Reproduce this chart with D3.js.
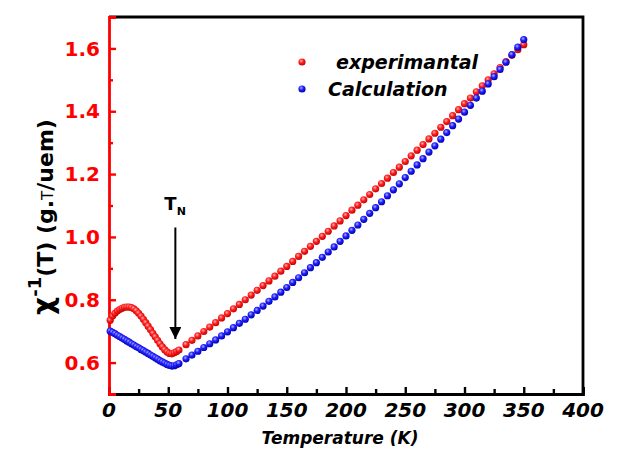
<!DOCTYPE html>
<meta charset="utf-8">
<script src="https://d3js.org/d3.v7.min.js"></script>
<style>
  body { margin: 0; background: #fff; }
  text { font-family: "DejaVu Sans", sans-serif; font-weight: bold; }
</style>
<div id="my_dataviz"></div>
<script>

// temperatures (K) shared by both series
var temps = [1,3,5,7,9,11,13,15,17,19,21,23,25,27,29,31,33,35,37,39,41,43,45,47,49,51,53,55,57,59,
  65,70,75,80,85,90,95,100,105,110,115,120,125,130,135,140,145,150,155,160,165,170,175,180,185,190,195,200,
  205,210,215,220,225,230,235,240,245,250,255,260,265,270,275,280,285,290,295,300,305,310,315,320,325,330,335,340,345,350];

// experimental inverse susceptibility
var experimental = [0.735,0.748,0.757,0.764,0.769,0.773,0.776,0.777,0.777,0.775,0.771,0.765,0.757,0.748,0.738,0.727,0.716,0.705,0.693,0.682,
  0.671,0.660,0.650,0.641,0.634,0.629,0.628,0.631,0.635,0.640,
  0.657,0.671,0.685,0.699,0.713,0.727,0.742,0.756,0.771,0.785,0.800,0.815,0.830,0.845,0.860,0.875,0.891,0.906,0.922,0.938,0.954,0.970,0.986,1.002,1.018,1.035,1.051,1.068,
  1.085,1.101,1.118,1.135,1.153,1.170,1.187,1.205,1.222,1.240,1.258,1.276,1.294,1.312,1.330,1.349,1.367,1.386,1.405,1.424,1.442,1.462,1.481,1.500,1.519,1.539,1.558,1.578,1.596,1.612];

// calculated inverse susceptibility
var calculation = [0.700,0.696,0.692,0.687,0.683,0.678,0.674,0.669,0.665,0.660,0.656,0.651,0.647,0.642,0.638,0.633,0.629,0.624,0.620,0.615,
  0.611,0.606,0.602,0.598,0.594,0.591,0.589,0.590,0.593,0.597,
  0.612,0.624,0.636,0.648,0.660,0.672,0.685,0.698,0.711,0.725,0.738,0.752,0.766,0.780,0.795,0.809,0.824,0.839,0.855,0.870,0.886,0.902,0.918,0.935,0.952,0.968,0.986,1.003,
  1.021,1.038,1.056,1.075,1.093,1.112,1.131,1.150,1.169,1.189,1.209,1.229,1.249,1.270,1.290,1.311,1.332,1.354,1.375,1.397,1.419,1.442,1.464,1.487,1.510,1.533,1.556,1.580,1.604,1.628];

var xTicks = [0,50,100,150,200,250,300,350,400];
var yTicks = [0.6,0.8,1.0,1.2,1.4,1.6];
var seriesNames = ["experimantal", "Calculation"];
var tN = 56;

var W = 644, H = 452;
var margin = {top: 17, right: 61, bottom: 58, left: 109},
    width = W - margin.left - margin.right,
    height = H - margin.top - margin.bottom;

var svg = d3.select("#my_dataviz").append("svg")
    .attr("width", W).attr("height", H);

// sphere-like marker gradients
var defs = svg.append("defs");
function sphere(id, light, mid, dark) {
  var gr = defs.append("radialGradient").attr("id", id)
    .attr("cx", "40%").attr("cy", "35%").attr("r", "65%");
  gr.append("stop").attr("offset", "0%").attr("stop-color", light);
  gr.append("stop").attr("offset", "45%").attr("stop-color", mid);
  gr.append("stop").attr("offset", "100%").attr("stop-color", dark);
}
sphere("gRed", "#ffb0b0", "#ff2020", "#c80000");
sphere("gBlue", "#b0b0ff", "#2020ff", "#0000b0");

var g = svg.append("g").attr("transform", "translate(" + margin.left + "," + margin.top + ")");

var x = d3.scaleLinear().domain([0, 400]).range([0, width]);
var y = d3.scaleLinear().domain([0.5, 1.7]).range([height, 0]);

// frame top + right
g.append("path")
  .attr("d", "M0,0H" + width + "V" + height)
  .attr("fill", "none").attr("stroke", "#000").attr("stroke-width", 2.8);

// x axis
var xAxis = g.append("g").attr("transform", "translate(0," + height + ")")
  .call(d3.axisBottom(x).tickValues(d3.range(0, 401, 25)).tickSize(-7).tickFormat(""));
xAxis.selectAll(".tick line").attr("stroke", "#000").attr("stroke-width", 2.4)
  .attr("y2", function(d) { return d % 50 === 0 ? -7 : -5; });
xAxis.select(".domain").attr("stroke", "#000").attr("stroke-width", 2.8);

g.append("g").selectAll("text").data(xTicks).enter().append("text")
  .attr("x", function(d) { return x(d); })
  .attr("y", height + 23)
  .attr("text-anchor", "middle")
  .style("font-style", "italic").style("font-size", "20px")
  .text(function(d) { return d; });

// y axis (red)
var yAxis = g.append("g")
  .call(d3.axisLeft(y).tickValues(d3.range(0.6, 1.65, 0.1)).tickSize(-7).tickFormat(""));
yAxis.selectAll(".tick line").attr("stroke", "#ff0000").attr("stroke-width", 2.4)
  .attr("x2", function(d, i) { return i % 2 === 0 ? 7 : 4; });
yAxis.select(".domain").attr("stroke", "#ff0000").attr("stroke-width", 2.8);

g.append("g").selectAll("text").data(yTicks).enter().append("text")
  .attr("x", -9)
  .attr("y", function(d) { return y(d); })
  .attr("dy", "0.36em")
  .attr("text-anchor", "end")
  .attr("fill", "#ff0000")
  .style("font-size", "20px")
  .text(function(d) { return d.toFixed(1); });

// axis titles
svg.append("text")
  .attr("x", 340)
  .attr("y", 444)
  .attr("text-anchor", "middle")
  .style("font-style", "italic").style("font-size", "17px")
  .text("Temperature (K)");

var yt = svg.append("text")
  .attr("transform", "translate(53,217) rotate(-90)")
  .attr("text-anchor", "middle")
  .style("font-size", "22px");
yt.append("tspan").style("font-size", "28px").text("\u03C7");
yt.append("tspan").attr("dy", "-12").style("font-size", "18px").text("-1");
yt.append("tspan").attr("dy", "12").text("(T) (g.");
yt.append("tspan").style("font-size", "15px").style("font-weight", "normal").text("T");
yt.append("tspan").text("/uem)");

// series
var series = [
  {name: seriesNames[0], values: experimental, fill: "url(#gRed)"},
  {name: seriesNames[1], values: calculation, fill: "url(#gBlue)"}
];
series.forEach(function(s) {
  g.append("g").selectAll("circle").data(temps).enter().append("circle")
    .attr("cx", function(d) { return x(d); })
    .attr("cy", function(d, i) { return y(s.values[i]); })
    .attr("r", 3.6)
    .attr("fill", s.fill);
});

// legend
series.forEach(function(s, i) {
  var ly = 62 + i * 27;
  svg.append("circle").attr("cx", 302).attr("cy", ly).attr("r", 3.6).attr("fill", s.fill);
  svg.append("text").attr("x", i === 0 ? 336 : 328).attr("y", ly).attr("dy", "0.36em")
    .style("font-style", "italic").style("font-size", "19px")
    .text(s.name);
});

// T_N arrow
defs.append("marker").attr("id", "arrow").attr("viewBox", "0 0 10 10")
  .attr("refX", 10).attr("refY", 5).attr("markerWidth", 18).attr("markerHeight", 12)
  .attr("markerUnits", "userSpaceOnUse").attr("orient", "auto")
  .append("path").attr("d", "M0,0L10,5L0,10z").attr("fill", "#000");

g.append("line")
  .attr("x1", x(tN)).attr("x2", x(tN))
  .attr("y1", y(1.03)).attr("y2", y(0.675))
  .attr("stroke", "#000").attr("stroke-width", 2)
  .attr("marker-end", "url(#arrow)");

var tl = g.append("text")
  .attr("x", x(tN) - 11).attr("y", y(1.085))
  .style("font-size", "18px");
tl.append("tspan").text("T");
tl.append("tspan").attr("dy", 5).style("font-size", "11px").text("N");

</script>
